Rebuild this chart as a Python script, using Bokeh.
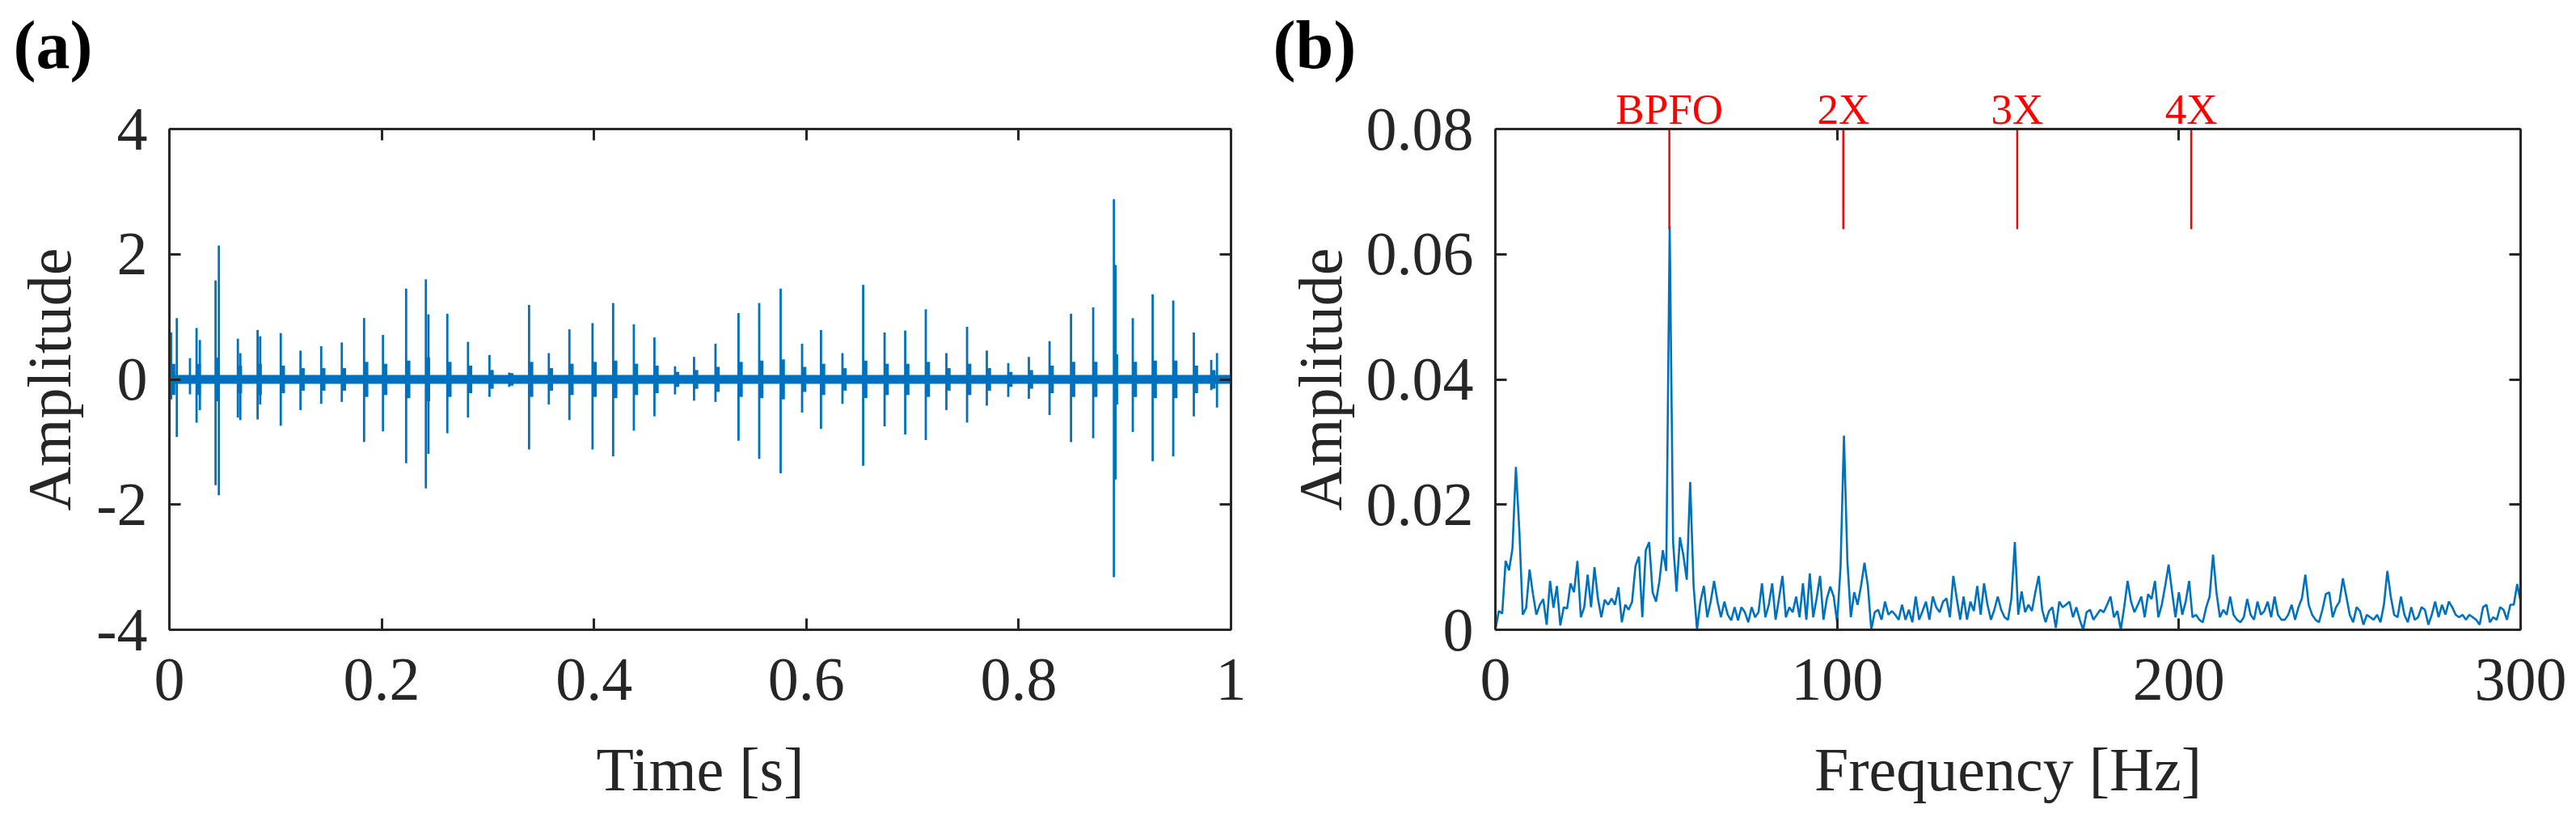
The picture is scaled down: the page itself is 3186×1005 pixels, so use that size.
from bokeh.plotting import figure
from bokeh.models import Range1d, LinearAxis, FixedTicker
from bokeh.layouts import row
from bokeh.embed import file_html
from bokeh.resources import INLINE

# ---------------- data: (a) time signal ----------------
spike_t = [0.0016, 0.0070, 0.0194, 0.0256, 0.0287, 0.0435, 0.0466, 0.0645, 0.0668, 0.0831,
           0.0855, 0.1049, 0.1235, 0.1430, 0.1624, 0.1834, 0.2012, 0.2230, 0.2416, 0.2440,
           0.2618, 0.2813, 0.3015, 0.3201, 0.3388, 0.3574, 0.3768, 0.3986, 0.4180, 0.4375,
           0.4569, 0.4763, 0.4942, 0.5144, 0.5361, 0.5556, 0.5758, 0.5960, 0.6138, 0.6340,
           0.6535, 0.6737, 0.6931, 0.7125, 0.7319, 0.7514, 0.7700, 0.7902, 0.8096, 0.8291,
           0.8493, 0.8702, 0.8897, 0.8912, 0.9075, 0.9262, 0.9456, 0.9650, 0.9814, 0.9868]
spike_hi = [0.75, 0.98, 0.34, 0.82, 0.63, 1.58, 2.14, 0.65, 0.42, 0.79,
            0.69, 0.74, 0.46, 0.53, 0.59, 0.98, 0.71, 1.45, 1.60, 1.04,
            1.05, 0.60, 0.39, 0.11, 1.19, 0.42, 0.80, 0.90, 1.22, 0.88,
            0.67, 0.21, 0.36, 0.57, 1.06, 1.22, 1.45, 0.57, 0.79, 0.42,
            1.51, 0.75, 0.78, 1.12, 0.42, 0.84, 0.46, 0.26, 0.36, 0.61,
            1.05, 1.15, 2.88, 1.83, 0.98, 1.36, 1.26, 0.75, 0.31, 0.42]
spike_lo = [-0.32, -0.92, -0.24, -0.69, -0.49, -1.69, -1.85, -0.61, -0.65, -0.64,
            -0.40, -0.74, -0.49, -0.39, -0.36, -1.00, -0.83, -1.34, -1.74, -1.19,
            -0.86, -0.61, -0.28, -0.12, -1.12, -0.40, -0.65, -1.12, -1.23, -0.82,
            -0.59, -0.24, -0.34, -0.36, -0.98, -1.27, -1.50, -0.53, -0.79, -0.39,
            -1.38, -0.75, -0.88, -0.97, -0.49, -0.69, -0.42, -0.28, -0.31, -0.57,
            -1.00, -0.94, -3.16, -1.60, -0.84, -1.31, -1.23, -0.59, -0.17, -0.45]
# ringing envelope after each burst
ring_t = [0.0016, 0.0256, 0.0435, 0.0645, 0.0831, 0.1049, 0.1235, 0.1430, 0.1624, 0.1834,
          0.2012, 0.2230, 0.2416, 0.2618, 0.2813, 0.3015, 0.3201, 0.3388, 0.3574, 0.3768,
          0.3986, 0.4180, 0.4375, 0.4569, 0.4763, 0.4942, 0.5144, 0.5361, 0.5556, 0.5758,
          0.5960, 0.6138, 0.6340, 0.6535, 0.6737, 0.6931, 0.7125, 0.7319, 0.7514, 0.7700,
          0.7902, 0.8096, 0.8291, 0.8493, 0.8702, 0.8897, 0.9075, 0.9262, 0.9456, 0.9650,
          0.9814]
ring_amp = [0.25, 0.25, 0.35, 0.22, 0.25, 0.22, 0.18, 0.18, 0.18, 0.28,
            0.25, 0.30, 0.35, 0.28, 0.22, 0.15, 0.10, 0.28, 0.18, 0.25,
            0.28, 0.30, 0.25, 0.22, 0.12, 0.15, 0.20, 0.28, 0.30, 0.32,
            0.20, 0.25, 0.18, 0.30, 0.25, 0.25, 0.28, 0.18, 0.25, 0.18,
            0.12, 0.15, 0.22, 0.28, 0.28, 0.40, 0.28, 0.30, 0.30, 0.22,
            0.15]
noise_t = [0.0, 1.0]
noise_amp = [0.07, 0.07]

# ---------------- data: (b) envelope spectrum ----------------
freq = list(range(0, 301))
spec = [
    0.0000, 0.0030, 0.0026, 0.0110, 0.0095, 0.0130, 0.0260, 0.0160, 0.0024, 0.0035,
    0.0096, 0.0057, 0.0024, 0.0040, 0.0049, 0.0008, 0.0078, 0.0035, 0.0070, 0.0007,
    0.0036, 0.0034, 0.0074, 0.0060, 0.0110, 0.0020, 0.0036, 0.0088, 0.0036, 0.0100,
    0.0050, 0.0020, 0.0048, 0.0040, 0.0050, 0.0040, 0.0068, 0.0012, 0.0040, 0.0032,
    0.0045, 0.0102, 0.0117, 0.0020, 0.0127, 0.0140, 0.0060, 0.0045, 0.0078, 0.0127,
    0.0094, 0.0645, 0.0140, 0.0061, 0.0148, 0.0119, 0.0080, 0.0236, 0.0070, 0.0000,
    0.0045, 0.0070, 0.0020, 0.0045, 0.0078, 0.0045, 0.0020, 0.0045, 0.0024, 0.0015,
    0.0036, 0.0015, 0.0036, 0.0028, 0.0012, 0.0036, 0.0020, 0.0028, 0.0074, 0.0020,
    0.0040, 0.0074, 0.0016, 0.0050, 0.0086, 0.0020, 0.0036, 0.0028, 0.0053, 0.0020,
    0.0074, 0.0016, 0.0090, 0.0020, 0.0050, 0.0086, 0.0016, 0.0050, 0.0069, 0.0053,
    0.0012, 0.0100, 0.0310, 0.0110, 0.0020, 0.0060, 0.0040, 0.0070, 0.0107, 0.0070,
    0.0000, 0.0028, 0.0032, 0.0016, 0.0045, 0.0024, 0.0030, 0.0024, 0.0016, 0.0040,
    0.0016, 0.0032, 0.0012, 0.0053, 0.0016, 0.0030, 0.0045, 0.0016, 0.0053, 0.0036,
    0.0028, 0.0045, 0.0050, 0.0020, 0.0086, 0.0050, 0.0016, 0.0053, 0.0016, 0.0045,
    0.0030, 0.0070, 0.0024, 0.0074, 0.0040, 0.0016, 0.0032, 0.0053, 0.0032, 0.0020,
    0.0016, 0.0050, 0.0140, 0.0024, 0.0061, 0.0028, 0.0040, 0.0030, 0.0060, 0.0086,
    0.0032, 0.0012, 0.0030, 0.0036, 0.0003, 0.0045, 0.0036, 0.0040, 0.0045, 0.0020,
    0.0036, 0.0016, 0.0000, 0.0028, 0.0032, 0.0016, 0.0024, 0.0032, 0.0028, 0.0040,
    0.0053, 0.0020, 0.0030, 0.0000, 0.0036, 0.0078, 0.0045, 0.0028, 0.0040, 0.0053,
    0.0020, 0.0057, 0.0049, 0.0078, 0.0020, 0.0040, 0.0070, 0.0104, 0.0061, 0.0020,
    0.0060, 0.0024, 0.0045, 0.0078, 0.0020, 0.0024, 0.0016, 0.0012, 0.0036, 0.0053,
    0.0120, 0.0060, 0.0020, 0.0032, 0.0024, 0.0053, 0.0024, 0.0016, 0.0012, 0.0020,
    0.0049, 0.0024, 0.0016, 0.0045, 0.0024, 0.0030, 0.0045, 0.0020, 0.0053, 0.0024,
    0.0016, 0.0016, 0.0024, 0.0040, 0.0016, 0.0036, 0.0050, 0.0088, 0.0040, 0.0024,
    0.0016, 0.0012, 0.0032, 0.0057, 0.0060, 0.0020, 0.0036, 0.0045, 0.0082, 0.0053,
    0.0024, 0.0012, 0.0036, 0.0030, 0.0008, 0.0024, 0.0020, 0.0016, 0.0024, 0.0012,
    0.0040, 0.0094, 0.0053, 0.0024, 0.0020, 0.0053, 0.0024, 0.0012, 0.0036, 0.0016,
    0.0020, 0.0036, 0.0032, 0.0008, 0.0024, 0.0045, 0.0020, 0.0040, 0.0024, 0.0045,
    0.0036, 0.0024, 0.0020, 0.0024, 0.0016, 0.0024, 0.0020, 0.0016, 0.0008, 0.0036,
    0.0040, 0.0012, 0.0020, 0.0016, 0.0036, 0.0032, 0.0016, 0.0040, 0.0040, 0.0073,
    0.0045,
]
harm_freq = [50.9, 101.8, 152.7, 203.6]
harm_text = ["BPFO", "2X", "3X", "4X"]
harm_marker_lo = 0.064

# ticks
a_xticks = [0, 0.2, 0.4, 0.6, 0.8, 1]
a_xlabels = ["0", "0.2", "0.4", "0.6", "0.8", "1"]
a_yticks = [-4, -2, 0, 2, 4]
a_ylabels = ["-4", "-2", "0", "2", "4"]
b_xticks = [0, 100, 200, 300]
b_xlabels = ["0", "100", "200", "300"]
b_yticks = [0, 0.02, 0.04, 0.06, 0.08]
b_ylabels = ["0", "0.02", "0.04", "0.06", "0.08"]

FONT = "Liberation Serif"
AX = "#262626"
BLUE = "#0072BD"
FS = "76px"
H = 1005


def make_fig(width, left, right, xr, yr, xticks, xlabels, yticks, ylabels, xlab, ylab,
             panel, title_offset):
    p = figure(width=width, height=H, x_range=Range1d(*xr), y_range=Range1d(*yr),
               output_backend="svg", toolbar_location=None,
               min_border_left=left, min_border_right=right,
               min_border_top=159, min_border_bottom=H - 159 - 619)
    p.grid.visible = False
    p.outline_line_color = None
    p.background_fill_color = "white"
    p.border_fill_color = "white"
    for ax in (p.xaxis[0], p.yaxis[0]):
        ax.axis_line_width = 3
        ax.axis_line_color = AX
        ax.major_tick_line_color = AX
        ax.major_tick_line_width = 3
        ax.major_tick_in = 14
        ax.major_tick_out = 0
        ax.minor_tick_line_color = None
        ax.major_label_text_font = FONT
        ax.major_label_text_font_size = FS
        ax.major_label_text_color = AX
        ax.axis_label_text_font = FONT
        ax.axis_label_text_font_size = FS
        ax.axis_label_text_font_style = "normal"
        ax.axis_label_text_color = AX
    p.xaxis.ticker = FixedTicker(ticks=xticks)
    p.yaxis.ticker = FixedTicker(ticks=yticks)
    p.xaxis.major_label_overrides = {t: l for t, l in zip(xticks, xlabels)}
    p.yaxis.major_label_overrides = {t: l for t, l in zip(yticks, ylabels)}
    p.xaxis.axis_label = xlab
    p.yaxis.axis_label = ylab
    p.xaxis.major_label_standoff = 36
    p.yaxis.major_label_standoff = 27
    p.xaxis.axis_label_standoff = 41
    p.yaxis.axis_label_standoff = 13
    # mirrored box axes (ticks only)
    for loc, ticks in (("above", xticks), ("right", yticks)):
        ax = LinearAxis(ticker=FixedTicker(ticks=ticks), major_label_text_font_size="1px",
                        major_label_text_color=None,
                        axis_line_width=3, axis_line_color=AX, major_tick_line_color=AX,
                        major_tick_line_width=3, major_tick_in=14, major_tick_out=0,
                        minor_tick_line_color=None, major_label_standoff=0)
        p.add_layout(ax, loc)
    # panel letter
    p.title.text = panel
    p.title.align = "left"
    p.title.offset = title_offset
    p.title.standoff = 2
    p.title.text_font = FONT
    p.title.text_font_size = "84px"
    p.title.text_font_style = "bold"
    p.title.text_color = "black"
    return p


def label_axis(ticks, texts, color):
    return LinearAxis(ticker=FixedTicker(ticks=ticks),
                      major_label_overrides={f: t for f, t in zip(ticks, texts)},
                      major_label_text_font=FONT, major_label_text_font_size="53px",
                      major_label_text_color=color, major_label_standoff=-10,
                      axis_line_color=None, major_tick_line_color=None,
                      minor_tick_line_color=None)


# ---------- (a) ----------
pa = make_fig(1560, 209, 38, (0, 1), (-4, 4), a_xticks, a_xlabels, a_yticks, a_ylabels,
              "Time [s]", "Amplitude", "(a)", -193)
# blank row of the same height as the harmonic labels of (b), so both letters line up
pa.add_layout(label_axis([0.5], [" "], "white"), "above")
pa.varea(x=noise_t, y1=[-v for v in noise_amp], y2=noise_amp, fill_color=BLUE)
pa.quad(left=ring_t, right=[t + 0.004 for t in ring_t], bottom=[-v for v in ring_amp],
        top=ring_amp, fill_color=BLUE, line_color=None)
pa.segment(x0=spike_t, y0=spike_lo, x1=spike_t, y1=spike_hi, line_color=BLUE, line_width=2.8)

# ---------- (b) ----------
pb = make_fig(1626, 289, 69, (0, 300), (0, 0.08), b_xticks, b_xlabels, b_yticks, b_ylabels,
              "Frequency [Hz]", "Amplitude", "(b)", -275)
pb.yaxis[0].axis_label_standoff = 12
pb.line(freq, spec, line_color=BLUE, line_width=2.6)
top_val = pb.y_range.end
pb.segment(x0=harm_freq, y0=[harm_marker_lo] * len(harm_freq), x1=harm_freq,
           y1=[top_val] * len(harm_freq), line_color="red", line_width=2.5)
pb.add_layout(label_axis(harm_freq, harm_text, "red"), "above")

layout = row(pa, pb)
open("out.html", "w").write(file_html(layout, INLINE))
